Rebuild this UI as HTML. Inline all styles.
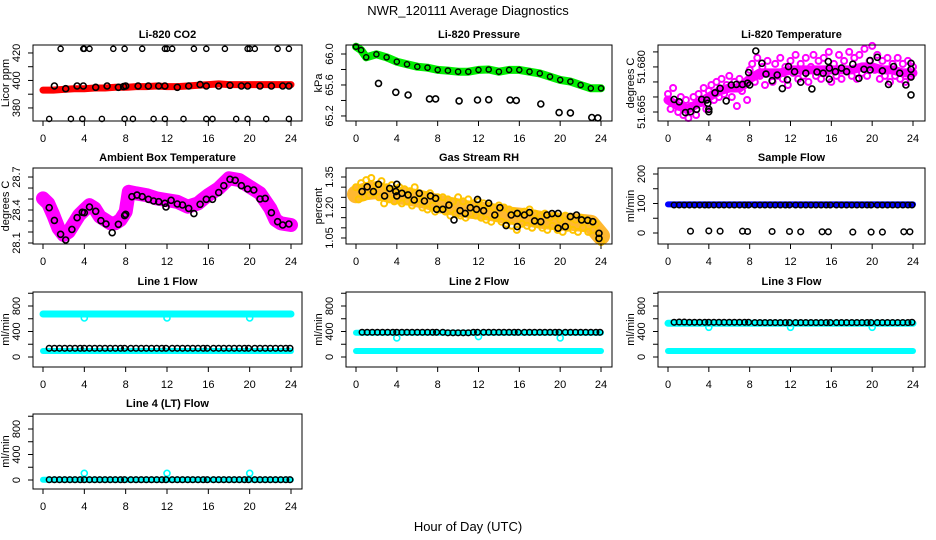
<!DOCTYPE html>
<html><head><meta charset="utf-8"><style>
html,body{margin:0;padding:0;background:#fff;}
svg{display:block;font-family:"Liberation Sans",Arial,sans-serif;}
</style></head><body>
<svg id="chart" width="936" height="540" viewBox="0 0 936 540" xmlns="http://www.w3.org/2000/svg">
<rect x="0" y="0" width="936" height="540" fill="#fff"/>
<text x="468" y="15" font-size="13" text-anchor="middle">NWR_120111  Average Diagnostics</text>
<text x="468" y="531" font-size="13" text-anchor="middle">Hour of Day (UTC)</text>
</svg>
<script>
// ---- data ----
const co2BandT = [0,1,2,3,4,5,6,7,8,9,10,11,12,13,14,15,16,17,18,19,20,21,22,23,24];
const co2BandV = [393,393,393.5,394,394,394.5,394.5,395,395,395.5,395.5,396,395.5,395.5,396,396.5,397,397.5,397,397,397,397,397,397,397];
const co2MidT = [1.1,2.2,3.3,3.9,5.1,6.2,7.3,7.8,8.0,9.2,10.2,11.2,11.8,13.0,14.1,15.2,15.8,17.0,18.1,19.2,19.8,21.0,22.1,23.2,23.8];
const co2MidV = [396,394,396,396,395,396,395,395.5,396,396,396,396,396,395,396,397,396,396,396.5,396,396,396,396,396,396];
const co2HighT = [1.7,3.9,4.0,4.5,6.8,7.9,9.6,11.8,12.0,12.5,14.6,15.8,17.6,19.8,20.0,20.5,22.7,23.8];
const co2HighV = [423,423,423,423,423,423,423,423,423,423,423,423,423,423,423,423,423,423];
const co2LowT = [0.6,2.7,3.8,5.7,7.9,8.7,10.7,11.8,13.6,15.8,16.4,18.7,19.8,21.6,23.8];
const co2LowV = [372,372,372,372,372,372,372,372,372,372,372,372,372,372,372];

const presT = [0,0.5,1,2,3,4,5,6,7,8,9,10,11,12,13,14,15,16,17,18,19,20,21,22,23,24];
const presV = [66.094,66.05,65.957,65.996,65.957,65.90,65.867,65.836,65.823,65.794,65.785,65.772,65.772,65.794,65.80,65.772,65.794,65.794,65.772,65.75,65.707,65.665,65.643,65.60,65.557,65.557];
const presLowT = [2.2,3.9,5.1,7.2,7.8,10.1,11.9,13.0,15.1,15.7,18.1,19.9,21.0,23.1,23.7];
const presLowV = [65.62,65.506,65.47,65.42,65.42,65.394,65.406,65.41,65.406,65.40,65.355,65.243,65.24,65.18,65.175];

const tempBandT = [0,1,2,3,4,5,6,7,8,9,10,11,12,13,14,15,16,17,18,19,20,21,22,23,24];
const tempBandV = [51.669,51.667,51.666,51.668,51.670,51.672,51.673,51.673,51.676,51.678,51.678,51.678,51.679,51.679,51.679,51.679,51.679,51.679,51.679,51.680,51.680,51.679,51.679,51.678,51.678];
const tempScatterV = [51.671,51.666,51.673,51.668,51.665,51.670,51.664,51.669,51.663,
51.667,51.670,51.664,51.671,51.668,51.673,51.666,51.672,
51.674,51.669,51.675,51.670,51.676,51.671,51.674,51.677,
51.670,51.675,51.667,51.676,51.672,51.674,51.669,51.679,
51.681,51.675,51.683,51.677,51.680,51.674,51.682,51.678,
51.675,51.681,51.677,51.683,51.676,51.680,51.674,51.682,
51.678,51.684,51.676,51.681,51.677,51.683,51.675,51.680,
51.684,51.677,51.682,51.676,51.683,51.678,51.685,51.675,
51.681,51.677,51.684,51.676,51.682,51.679,51.685,51.677,
51.683,51.676,51.684,51.678,51.686,51.677,51.682,51.687,
51.679,51.684,51.676,51.682,51.677,51.683,51.675,51.681,
51.677,51.683,51.676,51.681,51.675,51.682,51.677,51.680];
const tempBlackT = [0.6,1.1,1.7,2.2,2.8,3.3,3.8,3.9,4.0,4.0,4.6,5.1,5.7,6.2,6.7,7.3,7.8,7.9,8.0,8.6,9.2,9.6,10.2,10.7,11.2,11.7,11.8,12.4,13.0,13.5,14.1,14.6,15.2,15.7,15.8,15.8,16.4,17.0,17.5,18.1,18.7,19.2,19.8,19.8,20.5,21.0,21.6,22.1,22.7,23.3,23.8,23.8,23.8,23.8];
const tempBlackV = [51.6692,51.6684,51.6648,51.6651,51.6659,51.6692,51.6690,51.6679,51.6659,51.6651,51.6714,51.6729,51.6687,51.6740,51.6742,51.6742,51.6746,51.6781,51.6740,51.6853,51.6812,51.6776,51.6754,51.6773,51.6728,51.6757,51.6801,51.6784,51.6749,51.6779,51.6727,51.6783,51.6779,51.6818,51.6796,51.6759,51.6784,51.6796,51.6784,51.6809,51.6762,51.6792,51.6821,51.6790,51.6832,51.6787,51.6742,51.6801,51.6779,51.6740,51.6812,51.6792,51.6766,51.6707];

const ambT = [0,0.5,1,1.5,2,2.5,3,3.5,4,4.5,5,5.5,6,6.5,7,7.5,8,8.3,9,10,11,12,13,14,15,15.5,16,17,18,19,20,21,22,22.5,23,24];
const ambV = [28.506,28.46,28.355,28.234,28.173,28.203,28.279,28.355,28.40,28.445,28.415,28.34,28.31,28.279,28.279,28.31,28.385,28.566,28.552,28.536,28.506,28.49,28.475,28.43,28.46,28.50,28.536,28.597,28.688,28.673,28.612,28.552,28.415,28.31,28.279,28.264];
const ambBlackT = [0.6,1.1,1.7,2.2,2.8,3.3,3.8,4.0,4.5,5.1,5.6,6.1,6.7,7.3,7.9,8.0,8.6,9.1,9.6,10.2,10.7,11.2,11.8,11.9,12.4,13.0,13.5,14.1,14.6,15.2,15.8,16.4,17.0,17.5,18.1,18.6,19.2,19.8,20.4,21.0,21.5,22.1,22.7,23.2,23.8];
const ambBlackV = [28.421,28.306,28.179,28.127,28.224,28.330,28.379,28.376,28.427,28.388,28.303,28.273,28.194,28.270,28.349,28.361,28.521,28.536,28.521,28.497,28.482,28.476,28.461,28.427,28.488,28.455,28.446,28.415,28.367,28.452,28.497,28.497,28.558,28.621,28.679,28.670,28.621,28.591,28.582,28.500,28.506,28.376,28.294,28.264,28.273];

const rhBandT = [0,1,2,3,4,5,6,7,8,9,10,11,12,13,14,15,16,17,18,19,20,21,22,23,24];
const rhBandV = [1.265,1.28,1.285,1.27,1.26,1.255,1.245,1.235,1.22,1.21,1.20,1.19,1.185,1.18,1.17,1.16,1.155,1.15,1.14,1.135,1.13,1.13,1.125,1.12,1.06];
const rhScatterV = [1.300,1.240,1.320,1.250,1.335,1.260,1.345,1.270,1.310,
1.250,1.330,1.220,1.300,1.240,1.310,1.230,1.290,
1.300,1.220,1.290,1.230,1.280,1.210,1.300,1.240,
1.270,1.200,1.260,1.190,1.270,1.210,1.180,1.250,
1.190,1.250,1.180,1.240,1.160,1.230,1.170,1.250,
1.160,1.230,1.150,1.240,1.170,1.220,1.160,1.230,
1.150,1.220,1.140,1.210,1.130,1.200,1.150,1.210,
1.130,1.200,1.120,1.190,1.110,1.180,1.090,1.170,
1.120,1.180,1.110,1.190,1.100,1.170,1.120,1.160,
1.100,1.170,1.090,1.150,1.110,1.160,1.090,1.140,
1.080,1.160,1.100,1.150,1.090,1.140,1.080,1.150,
1.100,1.140,1.080,1.130,1.090,1.120,1.050,1.030];
const rhBlackT = [0.6,1.1,1.7,2.2,2.8,3.3,3.9,4.0,4.0,4.5,5.1,5.7,6.2,6.7,7.3,7.8,7.9,8.5,9.1,9.6,10.2,10.7,11.2,11.8,11.9,12.5,13.0,13.6,14.1,14.7,15.2,15.8,15.8,16.5,17.0,17.5,18.1,18.7,19.2,19.8,19.8,20.5,21.0,21.6,22.1,22.7,23.2,23.8,23.8];
const rhBlackV = [1.278,1.302,1.278,1.314,1.257,1.294,1.278,1.314,1.257,1.270,1.262,1.237,1.270,1.232,1.257,1.245,1.191,1.191,1.212,1.139,1.184,1.171,1.199,1.191,1.240,1.184,1.221,1.163,1.199,1.111,1.163,1.171,1.106,1.163,1.175,1.134,1.130,1.163,1.170,1.098,1.171,1.106,1.155,1.163,1.139,1.137,1.130,1.073,1.048];

const flowT = [0.6,1.1,1.6,2.1,2.6,3.1,3.6,4.0,4.5,5.0,5.5,6.0,6.5,7.0,7.5,7.9,8.5,9.0,9.5,10.0,10.5,11.0,11.5,11.9,12.5,13.0,13.5,14.0,14.5,15.0,15.5,15.9,16.5,17.0,17.5,18.0,18.5,19.0,19.5,19.9,20.5,21.0,21.5,22.0,22.5,23.0,23.5,23.9];
const sampleBandT = [0,24];
const sampleBandV = [97,97];
const sampleBlackV = [95,95,95,95,95,95,95,95,95,95,95,95,95,95,95,95,95,95,95,95,95,95,95,95,95,95,95,95,95,95,95,95,95,95,95,95,95,95,95,95,95,95,95,95,95,95,95,95];
const sampleLowT = [2.2,4.0,5.1,7.3,7.8,10.2,11.9,13.0,15.1,15.7,18.1,19.9,21.0,23.1,23.7];
const sampleLowV = [6,7,6,6,5,5,5,4,4,4,3,3,3,4,4];

const dipT = [4,12,20];
const line1HiT = [0,24]; const line1HiV = [675,675];
const line1LoT = [0,24]; const line1LoV = [94,94];
const line1DipV = [612,612,612];
const line1BlackV = [136,136,136,136,136,136,136,136,136,136,136,136,136,136,136,136,136,136,136,136,136,136,136,136,136,136,136,136,136,136,136,136,136,136,136,136,136,136,136,136,136,136,136,136,136,136,136,136];
const line2HiT = [0,24]; const line2HiV = [380,380];
const line2LoT = [0,24]; const line2LoV = [94,94];
const line2DipV = [300,320,300];
const line2BlackV = [387,387,387,387,387,387,387,387,387,387,387,387,387,387,387,387,387,380,380,380,380,380,387,387,387,387,387,387,387,387,387,387,387,387,387,387,387,387,387,387,387,387,387,387,387,387,387,387];
const line3HiT = [0,24]; const line3HiV = [528,528];
const line3LoT = [0,24]; const line3LoV = [94,94];
const line3DipV = [466,466,466];
const line3BlackV = [544,548,548,544,544,544,544,544,544,544,544,544,544,544,544,544,540,540,540,540,540,540,540,540,540,540,540,540,540,540,540,540,540,540,540,540,540,540,540,540,540,540,540,540,540,540,540,544];
const line4BandT = [0,24]; const line4BandV = [5,5];
const line4DipV = [105,105,105];
const line4BlackV = [5,5,5,5,5,5,5,5,5,5,5,5,5,5,5,5,5,5,5,5,5,5,5,5,5,5,5,5,5,5,5,5,5,5,5,5,5,5,5,5,5,5,5,5,5,5,5,5];

const xTicks = [0,4,8,12,16,20,24];

// ---- drawing ----
const svg = document.getElementById('chart');
const NS = 'http://www.w3.org/2000/svg';
function mk(tag, attrs) {
  const e = document.createElementNS(NS, tag);
  for (const k in attrs) e.setAttribute(k, attrs[k]);
  return e;
}
const cols = [{bx0:33,bx1:302,x0:43,x1:291},{bx0:346,bx1:612,x0:356,x1:601},{bx0:658,bx1:925,x0:668,x1:913}];
const rows = [{y0:45,y1:121},{y0:168,y1:244},{y0:292,y1:367},{y0:414,y1:489}];

function makePanel(name, col, row, ylim, yticks, ylabels, title, ytitle) {
  const c = cols[col], r = rows[row];
  const g = mk('g', {});
  
  
  svg.appendChild(g);
  const xs = v => c.x0 + (v / 24) * (c.x1 - c.x0);
  const ys = v => r.y1 - (v - ylim[0]) / (ylim[1] - ylim[0]) * (r.y1 - r.y0);
  const marks = mk('g', {});
  
  
  g.appendChild(marks);
  const box = mk('rect', {x:c.bx0, y:r.y0, width:c.bx1-c.bx0, height:r.y1-r.y0, fill:'none', stroke:'#000', 'stroke-width':1});
  
  
  g.appendChild(box);
  const tt = mk('text', {x:(c.bx0+c.bx1)/2, y:r.y0-7, 'font-size':11, 'font-weight':'bold', 'text-anchor':'middle'});
  tt.textContent = title;
  
  
  g.appendChild(tt);
  const xa = mk('g', {});
  
  
  g.appendChild(xa);
  xTicks.forEach(t => {
    const x = xs(t);
    xa.appendChild(mk('line', {x1:x, x2:x, y1:r.y1, y2:r.y1+5, stroke:'#000'}));
    const lb = mk('text', {x:x, y:r.y1+21, 'font-size':11, 'text-anchor':'middle'});
    lb.textContent = String(t);
    
    
    xa.appendChild(lb);
  });
  const ya = mk('g', {});
  
  
  g.appendChild(ya);
  yticks.forEach(t => {
    const y = ys(t);
    ya.appendChild(mk('line', {x1:c.bx0-5, x2:c.bx0, y1:y, y2:y, stroke:'#000'}));
  });
  ylabels.forEach(t => {
    const y = ys(parseFloat(t));
    const lx = c.bx0 - 13;
    const lb = mk('text', {x:lx, y:y, 'font-size':11, 'text-anchor':'middle', transform:'rotate(-90 '+lx+' '+y+')'});
    lb.textContent = t;
    
    
    ya.appendChild(lb);
  });
  const tx = c.bx0 - 24, ty = (r.y0 + r.y1) / 2;
  const yt = mk('text', {x:tx, y:ty, 'font-size':11, 'text-anchor':'middle', transform:'rotate(-90 '+tx+' '+ty+')'});
  yt.textContent = ytitle;
  
  
  g.appendChild(yt);
  return {xs, ys, marks, name};
}
function band(p, T, V, color, w, label) {
  const pts = T.map((t, i) => p.xs(t).toFixed(1) + ',' + p.ys(V[i]).toFixed(1)).join(' ');
  const pl = mk('polyline', {points:pts, fill:'none', stroke:color, 'stroke-width':w, 'stroke-linejoin':'round', 'stroke-linecap':'round'});
  
  
  p.marks.appendChild(pl);
}
function pts(p, T, V, color, r, sw, label) {
  const g = mk('g', {});
  
  
  p.marks.appendChild(g);
  V.forEach((v, i) => {
    const c = mk('circle', {cx:p.xs(T[i]).toFixed(1), cy:p.ys(v).toFixed(1), r:r, fill:'none', stroke:color, 'stroke-width':sw});
    
    
    g.appendChild(c);
  });
}
const quarterT = tempScatterV.map((_, i) => i * 0.25);

let p = makePanel('co2', 0, 0, [370.5,425.8], [380,390,400,410,420], ['380','400','420'], 'Li-820 CO2', 'Licor ppm');
band(p, co2BandT, co2BandV, '#ff0000', 7, 'red-band');
pts(p, co2MidT, co2MidV, '#000', 3, 1.6, 'mean-points');
pts(p, co2HighT, co2HighV, '#000', 2.6, 1.4, 'high-points');
pts(p, co2LowT, co2LowV, '#000', 2.6, 1.4, 'low-points');

p = makePanel('pressure', 1, 0, [65.135,66.116], [65.2,65.4,65.6,65.8,66.0], ['65.2','65.6','66.0'], 'Li-820 Pressure', 'kPa');
band(p, presT, presV, '#00ee00', 8, 'green-band');
pts(p, presT, presV, '#000', 2.6, 1.4, 'mean-points');
pts(p, presLowT, presLowV, '#000', 3, 1.6, 'low-points');

p = makePanel('temperature', 2, 0, [51.662,51.6873], [51.665,51.670,51.675,51.680,51.685], ['51.665','51.680'], 'Li-820 Temperature', 'degrees C');
band(p, tempBandT, tempBandV, '#ff00ff', 9, 'magenta-band');
pts(p, quarterT, tempScatterV, '#ff00ff', 3, 2, 'magenta-points');
pts(p, tempBlackT, tempBlackV, '#000', 3, 1.6, 'mean-points');

p = makePanel('ambient-temp', 0, 1, [28.091,28.782], [28.1,28.2,28.3,28.4,28.5,28.6,28.7], ['28.1','28.4','28.7'], 'Ambient Box Temperature', 'degrees C');
band(p, ambT, ambV, '#ff00ff', 14, 'magenta-band');
pts(p, ambBlackT, ambBlackV, '#000', 3, 1.6, 'mean-points');

p = makePanel('gas-rh', 1, 1, [1.0204,1.3943], [1.05,1.10,1.15,1.20,1.25,1.30,1.35], ['1.05','1.20','1.35'], 'Gas Stream RH', 'percent');
band(p, rhBandT, rhBandV, '#ffb830', 18, 'orange-band');
pts(p, quarterT, rhScatterV, '#ffc400', 3, 2, 'orange-points');
pts(p, rhBlackT, rhBlackV, '#000', 3, 1.6, 'mean-points');

p = makePanel('sample-flow', 2, 1, [-37.3,220.3], [0,50,100,150,200], ['0','100','200'], 'Sample Flow', 'ml/min');
band(p, sampleBandT, sampleBandV, '#0000ff', 6, 'blue-band');
pts(p, flowT, sampleBlackV, '#000', 2.8, 1.5, 'mean-points');
pts(p, sampleLowT, sampleLowV, '#000', 2.8, 1.5, 'low-points');

const flowTicks = [0,200,400,600,800,1000];
const flowLabels = ['0','400','800'];
p = makePanel('line1-flow', 0, 2, [-156.9,1019.6], flowTicks, flowLabels, 'Line 1 Flow', 'ml/min');
band(p, line1HiT, line1HiV, '#00ffff', 7, 'cyan-high-band');
band(p, line1LoT, line1LoV, '#00ffff', 6, 'cyan-low-band');
pts(p, dipT, line1DipV, '#00ffff', 3, 1.6, 'cyan-dips');
pts(p, flowT, line1BlackV, '#000', 2.8, 1.5, 'mean-points');

p = makePanel('line2-flow', 1, 2, [-156.9,1019.6], flowTicks, flowLabels, 'Line 2 Flow', 'ml/min');
band(p, line2HiT, line2HiV, '#00ffff', 6, 'cyan-high-band');
band(p, line2LoT, line2LoV, '#00ffff', 6, 'cyan-low-band');
pts(p, dipT, line2DipV, '#00ffff', 3, 1.6, 'cyan-dips');
pts(p, flowT, line2BlackV, '#000', 2.8, 1.5, 'mean-points');

p = makePanel('line3-flow', 2, 2, [-156.9,1019.6], flowTicks, flowLabels, 'Line 3 Flow', 'ml/min');
band(p, line3HiT, line3HiV, '#00ffff', 7, 'cyan-high-band');
band(p, line3LoT, line3LoV, '#00ffff', 6, 'cyan-low-band');
pts(p, dipT, line3DipV, '#00ffff', 3, 1.6, 'cyan-dips');
pts(p, flowT, line3BlackV, '#000', 2.8, 1.5, 'mean-points');

p = makePanel('line4-flow', 0, 3, [-141,1035], flowTicks, flowLabels, 'Line 4 (LT) Flow', 'ml/min');
band(p, line4BandT, line4BandV, '#00ffff', 6, 'cyan-band');
pts(p, dipT, line4DipV, '#00ffff', 3, 1.6, 'cyan-dips');
pts(p, flowT, line4BlackV, '#000', 2.8, 1.5, 'mean-points');
</script>
</body></html>
